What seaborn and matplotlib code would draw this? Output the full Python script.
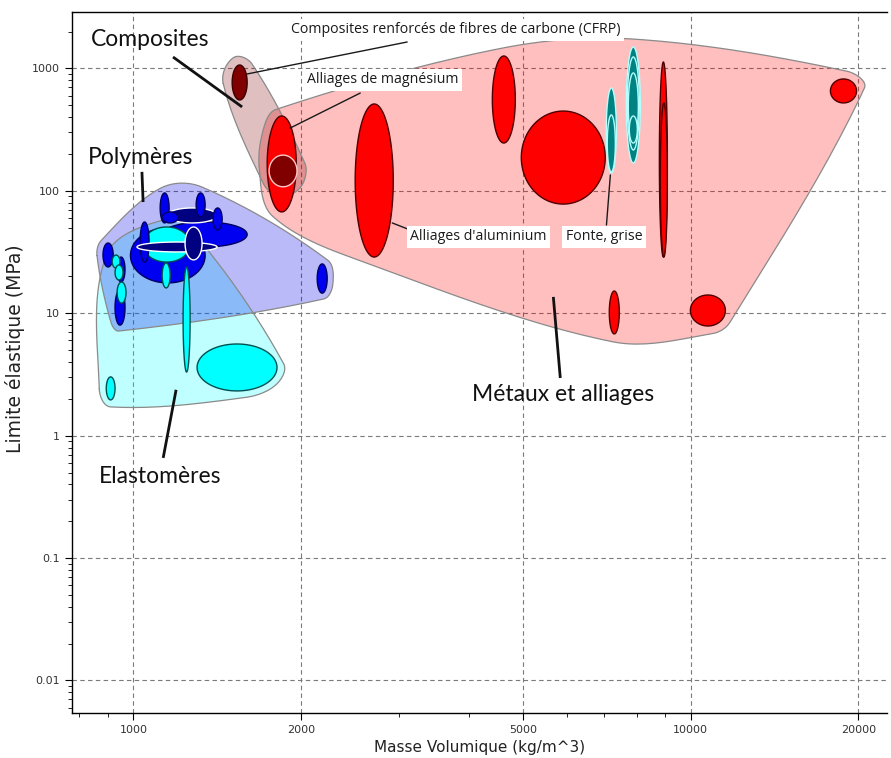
import numpy as np
import matplotlib
matplotlib.use("Agg")
import matplotlib.pyplot as plt
from matplotlib.ticker import FixedLocator, LogLocator, NullFormatter, FuncFormatter
import seaborn as sns

# ---------------------------------------------------------------------------
# Property ranges: density (kg/m^3) and yield strength (MPa)
# ---------------------------------------------------------------------------
metal_names = ["Alliages de zinc", "Alliages d'aluminium", "Alliages de magnésium",
               "Alliages de titane", "Alliages de cuivre", "Alliages de nickel",
               "Alliages d'étain", "Alliages de plomb", "Alliages de tungstène",
               "Fonte, grise", "Fonte, blanche", "Aciers inoxydables",
               "Aciers faiblement alliés", "Aciers au carbone", "Fonte, ductile"]
metal_class = ["non ferreux"] * 9 + ["ferreux"] * 6
metal_rho_lo = [4966, 2500, 1738, 4406, 8785, 8821, 7143, 9986, 17810,
                7055, 7084, 7664, 7696, 7727, 7759]
metal_rho_hi = [7025, 2926, 1960, 4845, 9080, 9080, 7445, 11540, 19840,
                7355, 7324, 8120, 8087, 8054, 8020]
metal_sig_lo = [78, 28.8, 67.3, 246, 28.8, 28.8, 6.78, 7.87, 523,
                140, 143, 169, 216, 261, 246]
metal_sig_hi = [449, 513, 409, 1265, 1130, 523, 15.2, 14.1, 821,
                693, 417, 1498, 1242, 919, 409]

comp_names = ["CFRP", "GFRP"]
comp_class = ["CFRP", "GFRP"]
comp_rho_lo = [1504, 1752]
comp_rho_hi = [1600, 1966]
comp_sig_lo = [553, 108]
comp_sig_hi = [1068, 196]

poly_names = ["PP", "PE", "PA", "Ionomères", "PTFE", "PVC souple", "PEEK",
              "Epoxydes", "PMMA", "PET", "PC", "ABS", "PS", "Polyesters"]
poly_class = ["thermoplastique"] * 7 + ["thermodurcissable"] + \
             ["thermoplastique"] * 4 + ["thermodurcissable"] * 2
poly_layer = [0, 0, 2, 0, 0, 0, 0, 0, 0, 0, 0, 0, 2, 2]
poly_rho_lo = [988, 1126, 1028, 882, 935, 927, 2137, 1150, 1117, 1296, 1390, 1126, 1015, 1238]
poly_rho_hi = [1345, 1600, 1067, 920, 966, 966, 2227, 1413, 1159, 1345, 1443, 1203, 1413, 1328]
poly_sig_lo = [17.7, 34.8, 26.2, 23.9, 18.0, 8.0, 14.6, 54.7, 54.7, 61.2, 47.9, 54.7, 31.7, 27.3]
poly_sig_hi = [49.8, 55.7, 55.7, 37.5, 28.8, 15.5, 25.3, 72.5, 96.2, 96.2, 72.5, 67.3, 38.2, 50.7]

elas_names = ["Polyuréthane", "Butyle", "Silicones", "Néoprène", "EVA",
              "Isoprène", "Polybutadiène", "Caoutchouc naturel"]
elas_rho_lo = [1041, 894, 1301, 1228, 1126, 916, 927, 935]
elas_rho_hi = [1264, 927, 1810, 1264, 1164, 946, 958, 970]
elas_sig_lo = [26.2, 1.96, 2.32, 3.31, 16.1, 23.4, 18.7, 12.1]
elas_sig_hi = [50.7, 3.02, 5.61, 23.9, 25.8, 29.9, 24.8, 18.0]

x_ticks = [1000, 2000, 5000, 10000, 20000]
y_ticks = [0.01, 0.1, 1, 10, 100, 1000]

# colours of the bubbles: (face, edge)
bubble_style = {
    "non ferreux": ("#ff0000", "#500000"),
    "ferreux": ("#008282", "#b4ffff"),
    "CFRP": ("#800000", "#3c0000"),
    "GFRP": ("#800000", "#ffc8c8"),
    "thermoplastique": ("#0000f0", "#000060"),
    "thermodurcissable": ("#000080", "#ffffff"),
    "elastomere": ("#00ffff", "#005050"),
}
# family envelopes: (colour, alpha, padding in px)
env_style = {
    "Elastomères": ("#00ffff", 0.25, 7),
    "Polymères": ("#0000e6", 0.27, 6),
    "Métaux": ("#ff0000", 0.25, 8),
    "Composites": ("#800000", 0.25, 9),
}

sns.set_theme(style="ticks")
plt.rcParams["font.family"] = ["DejaVu Sans"]

fig = plt.figure(figsize=(8.91, 7.58), dpi=100)
ax = fig.add_axes([72 / 891, 1 - 713 / 758, (887 - 72) / 891, (713 - 12) / 758])
ax.set_xscale("log")
ax.set_yscale("log")
ax.set_xlim(776, 22500)
ax.set_ylim(0.00542, 2894)


def ellipse_xy(rlo, rhi, slo, shi, n=160):
    t = np.linspace(0, 2 * np.pi, n)
    cx = 0.5 * (np.log10(rlo) + np.log10(rhi))
    ax_ = 0.5 * (np.log10(rhi) - np.log10(rlo))
    cy = 0.5 * (np.log10(slo) + np.log10(shi))
    ay = 0.5 * (np.log10(shi) - np.log10(slo))
    return 10 ** (cx + ax_ * np.cos(t)), 10 ** (cy + ay * np.sin(t))


def convex_hull(pts):
    pts = sorted(set(map(tuple, np.round(pts, 2))))

    def cross(o, a, b):
        return (a[0] - o[0]) * (b[1] - o[1]) - (a[1] - o[1]) * (b[0] - o[0])

    lower, upper = [], []
    for p in pts:
        while len(lower) >= 2 and cross(lower[-2], lower[-1], p) <= 0:
            lower.pop()
        lower.append(p)
    for p in reversed(pts):
        while len(upper) >= 2 and cross(upper[-2], upper[-1], p) <= 0:
            upper.pop()
        upper.append(p)
    return np.array(lower[:-1] + upper[:-1])


def simplify(chain, tol):
    """Douglas-Peucker on an open chain."""
    if len(chain) < 3:
        return chain
    a, b = chain[0], chain[-1]
    d = b - a
    n = np.hypot(*d) + 1e-12
    dist = np.abs(d[0] * (chain[:, 1] - a[1]) - d[1] * (chain[:, 0] - a[0])) / n
    i = int(np.argmax(dist))
    if dist[i] > tol:
        left = simplify(chain[:i + 1], tol)
        right = simplify(chain[i:], tol)
        return np.vstack([left[:-1], right])
    return np.vstack([a, b])


def smooth_closed(P, s=1.0, n=24):
    """Hermite spline through the vertices of a closed polygon."""
    N = len(P)
    out = []
    for i in range(N):
        p0, p1, p2, p3 = P[i - 1], P[i], P[(i + 1) % N], P[(i + 2) % N]
        L = np.hypot(*(p2 - p1))
        t1 = p2 - p0
        t2 = p3 - p1
        m1 = t1 / (np.hypot(*t1) + 1e-12) * L * s
        m2 = t2 / (np.hypot(*t2) + 1e-12) * L * s
        t = np.linspace(0, 1, n, endpoint=False)[:, None]
        h00 = 2 * t**3 - 3 * t**2 + 1
        h10 = t**3 - 2 * t**2 + t
        h01 = -2 * t**3 + 3 * t**2
        h11 = t**3 - t**2
        out.append(h00 * p1 + h10 * m1 + h01 * p2 + h11 * m2)
    out = np.vstack(out)
    return np.vstack([out, out[:1]])


def envelope(rlo, rhi, slo, shi, key):
    colour, alpha, pad = env_style[key]
    ang = np.linspace(0, 2 * np.pi, 36, endpoint=False)
    off = np.column_stack([np.cos(ang), np.sin(ang)]) * pad
    pts = []
    for a, b, c, d in zip(rlo, rhi, slo, shi):
        x, y = ellipse_xy(a, b, c, d, 60)
        disp = ax.transData.transform(np.column_stack([x, y]))
        pts.append((disp[:, None, :] + off[None, :, :]).reshape(-1, 2))
    hull = convex_hull(np.vstack(pts))
    # split the closed hull in two chains and simplify each
    j = int(np.argmax(np.hypot(*(hull - hull[0]).T)))
    c1 = simplify(np.vstack([hull[:j + 1]]), 5)
    c2 = simplify(np.vstack([hull[j:], hull[:1]]), 5)
    verts = np.vstack([c1[:-1], c2[:-1]])
    curve = smooth_closed(verts, s=1.0)
    data = ax.transData.inverted().transform(curve)
    ax.fill(data[:, 0], data[:, 1], facecolor=colour, alpha=alpha,
            edgecolor="none", zorder=1)
    ax.plot(data[:, 0], data[:, 1], color="#8a8a8a", lw=0.9, zorder=1.1)


def bubbles(rlo, rhi, slo, shi, classes, z):
    for a, b, c, d, k, zz in zip(rlo, rhi, slo, shi, classes, z):
        face, edge = bubble_style[k]
        x, y = ellipse_xy(a, b, c, d)
        ax.fill(x, y, facecolor=face, edgecolor=edge, lw=1.0, zorder=zz)


# envelopes of the families
envelope(elas_rho_lo, elas_rho_hi, elas_sig_lo, elas_sig_hi, "Elastomères")
envelope(poly_rho_lo, poly_rho_hi, poly_sig_lo, poly_sig_hi, "Polymères")
envelope(metal_rho_lo, metal_rho_hi, metal_sig_lo, metal_sig_hi, "Métaux")
envelope(comp_rho_lo, comp_rho_hi, comp_sig_lo, comp_sig_hi, "Composites")

# material bubbles
bubbles(poly_rho_lo, poly_rho_hi, poly_sig_lo, poly_sig_hi, poly_class,
        [2 + 0.01 * l for l in poly_layer])
bubbles(elas_rho_lo, elas_rho_hi, elas_sig_lo, elas_sig_hi,
        ["elastomere"] * len(elas_names), [2.01] * len(elas_names))
bubbles(metal_rho_lo, metal_rho_hi, metal_sig_lo, metal_sig_hi, metal_class,
        [2] * len(metal_names))
bubbles(comp_rho_lo, comp_rho_hi, comp_sig_lo, comp_sig_hi, comp_class,
        [2.05, 2.05])

# annotations of single materials
small_font = dict(family="Open Sans", fontsize=10.2, color="#1a1a1a")
box = dict(boxstyle="square,pad=0.25", facecolor="white", edgecolor="none")
labels = [
    ("Composites renforcés de fibres de carbone (CFRP)", (3781, 2063), (1600, 902), (3099, 1646)),
    ("Alliages de magnésium", (2796, 806), (1911, 326), (2553, 630)),
    ("Alliages d'aluminium", (4158, 42.0), (2914, 54.7), (3139, 47.9)),
    ("Fonte, grise", (6998, 42.0), (7175, 135), (7060, 52.6)),
]
for txt, pos, p0, p1 in labels:
    ax.plot([p0[0], p1[0]], [p0[1], p1[1]], color="#1a1a1a", lw=1.0, zorder=4)
    ax.text(pos[0], pos[1], txt, ha="center", va="center", bbox=box, zorder=5,
            **small_font)

# family names
big_font = dict(family="Lato", fontsize=16.5, color="#111111")
families = [
    ("Composites", (1072, 1710), (1178, 1241), (1567, 485)),
    ("Polymères", (1028, 189), (1036, 143), (1041, 81.1)),
    ("Elastomères", (1117, 0.460), (1131, 0.658), (1193, 2.37)),
    ("Métaux et alliages", (5909, 2.15), (5834, 2.96), (5669, 13.6)),
]
for txt, pos, p0, p1 in families:
    ax.plot([p0[0], p1[0]], [p0[1], p1[1]], color="#111111", lw=2.0,
            solid_capstyle="butt", zorder=4)
    ax.text(pos[0], pos[1], txt, ha="center", va="center", zorder=5, **big_font)

# axes, ticks and grid
ax.xaxis.set_major_locator(FixedLocator(x_ticks))
ax.yaxis.set_major_locator(FixedLocator(y_ticks))
ax.xaxis.set_minor_locator(LogLocator(base=10, subs=np.arange(2, 10)))
ax.yaxis.set_minor_locator(LogLocator(base=10, subs=np.arange(2, 10)))
fmt = FuncFormatter(lambda v, _: f"{v:g}")
ax.xaxis.set_major_formatter(fmt)
ax.yaxis.set_major_formatter(fmt)
ax.xaxis.set_minor_formatter(NullFormatter())
ax.yaxis.set_minor_formatter(NullFormatter())
ax.tick_params(which="major", length=5, width=0.8, direction="out",
               labelsize=8, labelcolor="#333333", color="black")
ax.tick_params(which="minor", length=3, width=0.6, direction="out", color="black")
ax.grid(True, which="major", linestyle=(0, (4, 3)), color="#7a7a7a", lw=0.8)
ax.set_axisbelow(True)
sns.despine(ax=ax, top=False, right=True)
for s in ["left", "bottom", "top"]:
    ax.spines[s].set_color("black")
    ax.spines[s].set_linewidth(1.0)

ax.set_xlabel("Masse Volumique (kg/m^3)", fontsize=11, color="#222222", labelpad=4)
ax.set_ylabel("Limite élastique (MPa)", fontsize=13.5, color="#222222")
ax.yaxis.set_label_coords(-0.058, 0.52)

fig.savefig("out.png", dpi=100)
